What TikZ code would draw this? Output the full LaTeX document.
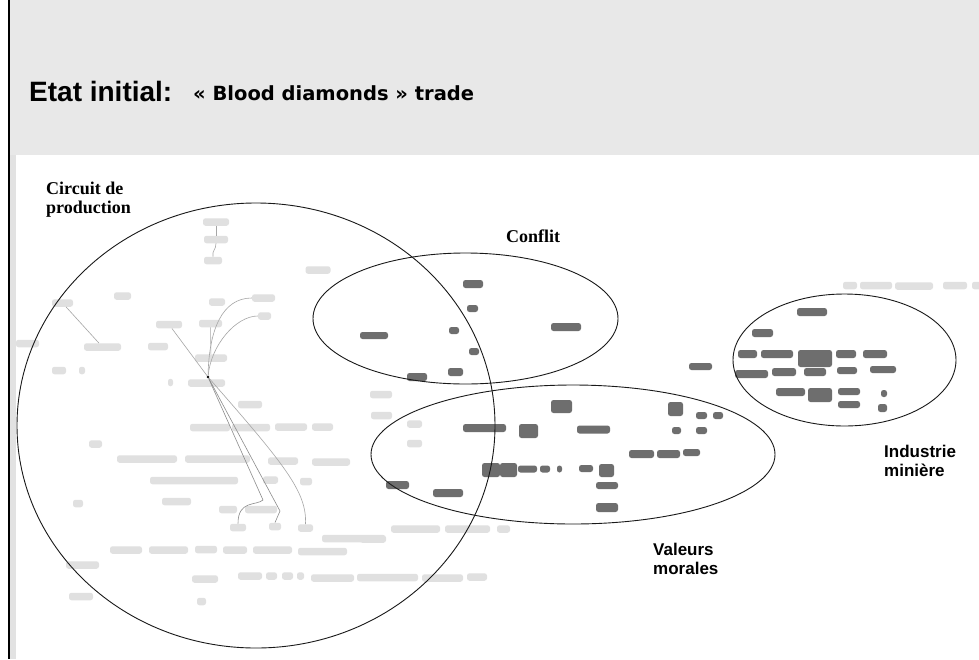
\documentclass[tikz,border=0pt]{standalone}
\usepackage{fontspec}
\usepackage{tikz}
\usetikzlibrary{shapes.geometric, positioning}
\newfontfamily\arialfont{Liberation Sans}
\newfontfamily\verdfont{DejaVu Sans}
\newfontfamily\timesfont{Liberation Serif}
\definecolor{headgray}{HTML}{E8E8E8}
\definecolor{stripgray}{HTML}{E2E2E2}
\definecolor{blobdark}{HTML}{6E6E6E}
\definecolor{blobpale}{HTML}{E0E0E0}
\definecolor{linkgray}{HTML}{A6A6A6}

\begin{document}
\begin{tikzpicture}[x=1pt, y=-1pt]
        \tikzstyle{blob}=[rectangle, rounded corners=2.5pt, inner sep=0pt, draw=none]
        \tikzstyle{dark blob}=[blob, fill=blobdark];
        \tikzstyle{pale blob}=[blob, fill=blobpale, minimum height=7.5pt];
        \tikzstyle{zone}=[ellipse, draw=black!90, line width=0.9pt, inner sep=0pt];
        \tikzstyle{link}=[draw=linkgray, line width=0.6pt];
        \tikzstyle{annot serif}=[inner sep=0pt, align=left, font=\timesfont\bfseries\fontsize{18}{18.5}\selectfont];
        \tikzstyle{annot}=[inner sep=0pt, align=left, font=\arialfont\bfseries\fontsize{17}{19}\selectfont];

        \useasboundingbox (0,0) rectangle (979,659);

        % Header band and left margin
        \fill[white] (0,0) rectangle (979,659);
        \fill[headgray] (10,0) rectangle (979,155);
        \fill[stripgray] (10,155) rectangle (16,659);
        \draw[black, line width=2pt] (8.5,0) -- (8.5,659);

        % Title
        \node[inner sep=0pt, anchor=base west, font=\arialfont\bfseries\fontsize{28}{32}\selectfont] (title) at (29,101.5) {Etat initial:};
        \node[inner sep=0pt, anchor=base west, font=\verdfont\bfseries\fontsize{19.5}{23}\selectfont] (subtitle) at (193,100) {« Blood diamonds » trade};

        % Draw the pale nodes (background network)
        \foreach \x / \y / \w [count=\name] in {318/270/25, 381/394.5/22, 381.5/415.5/21, 414.5/424/15, 414.5/443.5/15,
                415.5/529/49, 467.5/529/45, 503.5/529/13, 373/539/26, 387.5/577.5/61, 442.5/578/41, 477/577/20,
                850/285.5/14, 876/285.5/32, 914/286/38, 955/285.5/24, 977/285.5/10,
                216/222/26, 216/239.5/24, 213/260.5/18, 122.5/296/17, 62.5/303/21, 217/302/16, 263.5/298/23,
                264.5/316/13, 169/324.5/26, 210.5/323.5/23, 27.5/343.5/23, 102.5/347/37, 158/346.5/20, 211/358/32,
                59/370.5/14, 82/370.5/6, 170.5/382.5/5, 206.5/383/37, 250/404.5/24,
                210/427.5/40, 251/427.5/38, 291/427/32, 322.5/427/21, 95.5/444/13, 147/459/60, 217.5/459/65,
                283/461/30, 331/462/38, 194/480.5/88, 270.5/480/15, 306/481.5/12, 78/503.5/10, 176.5/501.5/29,
                228/509.5/18, 261/509.5/32, 238/527.5/16, 275/526.5/12, 305.5/528/15, 353.5/538.5/63,
                126/550/32, 168.5/550/39, 206/549.5/22, 235/550/24, 272.5/550/39, 322.5/551.5/49, 82.5/565/33,
                205/579/26, 250/576/24, 271.5/576/11, 287.5/576/11, 300.5/576/7, 332.5/578/43, 81/596.5/24, 201.5/601.5/9}
            \node[pale blob, minimum width=\w pt] (P-\name) at (\x,\y) {};

        % Draw the dark nodes (Conflit, Valeurs morales, Industrie miniere)
        \foreach \x / \y / \w / \h [count=\name] in {473/284/20/8, 472.5/308.5/11/7, 454/330.5/10/7, 374/335.5/28/7,
                566/327/30/8, 474/351.5/10/7, 455.5/372/15/8, 417/377/20/8,
                561.5/406.5/21/13, 675.5/409/15/14, 701.5/415.5/11/7, 718/415.5/10/7, 484.5/428/43/8,
                528.5/431/19/14, 593.5/429.5/33/8, 676.5/430.5/9/7, 701.5/430.5/11/7, 641.5/454/25/8,
                668.5/454/23/8, 691.5/452.5/17/7, 491/470/18/14, 508.5/470/17/14, 527.5/469/19/7, 545/469/10/7,
                559.5/469/5/7, 586/468.5/14/7, 606.5/470.5/15/13, 607/485.5/22/7, 607/507.5/22/9,
                397.5/485/23/8, 448/493/30/8, 700.5/366.5/23/7,
                812/312/30/8, 762.5/333/21/8, 747.5/354/19/8, 777/354/32/8, 815/358.5/34/17, 846/354/20/8,
                875/354/24/8, 751.5/374/33/8, 784/372/24/8, 815/372/22/8, 847/370.5/20/7, 883/369.5/26/7,
                790.5/392/29/8, 820/395/24/14, 849/391.5/22/7, 849/404.5/22/7, 884/393.5/6/7, 882.5/408/9/8}
            \node[dark blob, minimum width=\w pt, minimum height=\h pt] (D-\name) at (\x,\y) {};

        % Hub of the production circuit
        \node[circle, fill=black, inner sep=0pt, minimum size=2.6pt] (hub) at (208,377) {};

        % Connect the pale nodes
        \path[link] (P-18) edge (P-19);
        \draw[link] (P-19.south) .. controls (216,250) and (212,250) .. (P-20.north);
        \path[link] (P-22) edge (P-29);
        \path[link] (P-26) edge (hub);
        \path[link] (P-27) edge (P-31);
        \draw[link] (hub) .. controls (209,330) and (222,298) .. (P-24.west);
        \draw[link] (hub) .. controls (211,345) and (236,316) .. (P-25.west);
        \draw[link, draw=black!45] (hub) -- (263,500) .. controls (256,506) and (238,500) .. (P-53.north);
        \draw[link, draw=black!45] (hub) -- (280,511) -- (P-54.north);
        \draw[link, draw=black!35] (hub) .. controls (285,465) and (307,492) .. (P-55.north);

        % Zones
        \node[zone, minimum width=478pt, minimum height=445pt] (production) at (256,425.5) {};
        \node[zone, minimum width=305pt, minimum height=131pt] (conflit) at (465.5,318.5) {};
        \node[zone, minimum width=404pt, minimum height=139pt] (valeurs) at (573,454.5) {};
        \node[zone, minimum width=223pt, minimum height=132pt] (miniere) at (844.5,360) {};

        % Annotate the zones (base = last line)
        \node[annot serif, anchor=base west] (lprod) at (46,213) {Circuit de\\production};
        \node[annot serif, anchor=base west] (lconf) at (506,242.5) {Conflit};
        \node[annot, anchor=base west] (lval) at (653,574.5) {Valeurs\\morales};
        \node[annot, anchor=base west] (lmin) at (884,476) {Industrie\\minière};
\end{tikzpicture}
\end{document}
